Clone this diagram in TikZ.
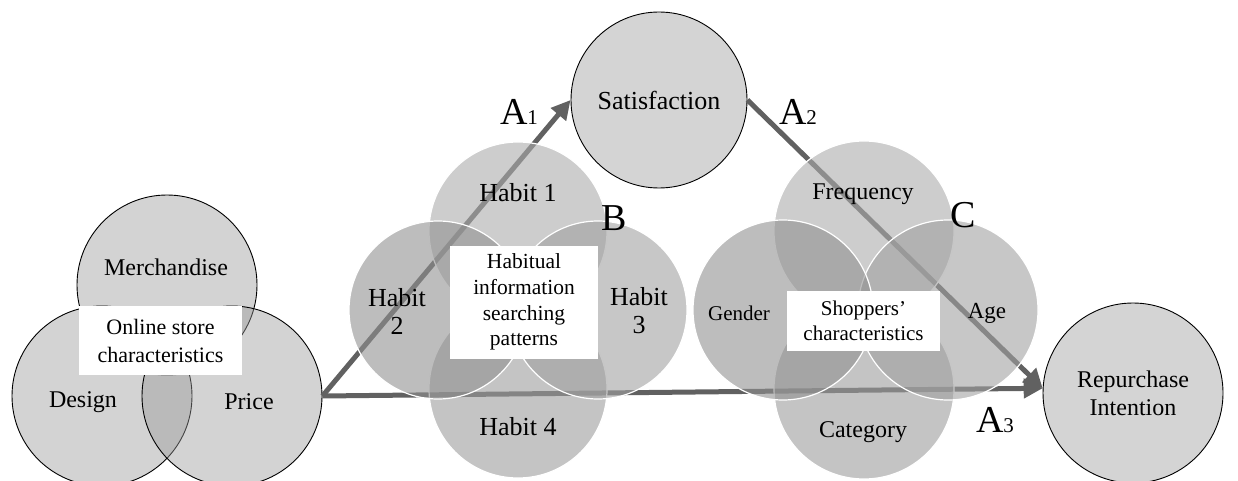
\documentclass[tikz,border=0pt]{standalone}
\usepackage{fontspec}
\setmainfont{Liberation Serif}
\usetikzlibrary{arrows.meta,positioning}

\definecolor{circfill}{gray}{0.83}
\definecolor{arrgray}{gray}{0.38}
\definecolor{topc}{gray}{0.67}
\definecolor{leftc}{gray}{0.57}
\definecolor{rightc}{gray}{0.63}
\definecolor{botc}{gray}{0.61}
\newcommand{\sz}[2]{\fontsize{#1}{#2}\selectfont}
\newcommand{\pathlab}[2]{{\sz{38}{40}#1}{\sz{21}{22}#2}}

\begin{document}
\begin{tikzpicture}[x=1pt,y=-1pt,
    venn/.style={circle,draw=black,line width=0.9pt,fill=black!40,fill opacity=0.43,minimum size=180pt,inner sep=0pt},
    mainc/.style={circle,draw=black,line width=0.9pt,fill=circfill,minimum size=176pt,inner sep=0pt,align=center},
    habit/.style={circle,draw=white,line width=1.2pt,fill opacity=0.6,minimum size=178pt,inner sep=0pt},
    whitebox/.style={fill=white,inner sep=0pt,align=center},
    arr/.style={draw=arrgray,line width=5pt,-{Triangle[length=19pt,width=19pt]}},
    txt/.style={inner sep=0pt,align=center}]
    \useasboundingbox (0,0) rectangle (1238,481);
    \clip (0,0) rectangle (1238,481);
%   online store
    \node[venn] (merch) at (167,285) {};
    \node[venn] (design) at (102,396) {};
    \node[venn] (price) at (232,396) {};
%   outcomes
    \node[mainc,font=\sz{26}{28}] (sat) at (659,100) {Satisfaction};
    \node[mainc,minimum size=180pt,font=\sz{24}{28}] (rep) at (1133,393) {Repurchase\\Intention};
%   paths
    \draw[arr] (price.east) -- (sat.west);
    \draw[arr] (sat.east) -- (rep.177);
    \draw[arr] (price.east) -- (rep.177);
%   habits
    \node[habit,fill=topc] (habit1) at (518,231) {};
    \node[habit,fill=botc] (habit4) at (518,389) {};
    \node[habit,fill=rightc] (habit3) at (598,310) {};
    \node[habit,fill=leftc] (habit2) at (438,310) {};
%   shoppers
    \node[habit,fill=topc,minimum size=180pt] (freq) at (864,231) {};
    \node[habit,fill=botc,minimum size=180pt] (categ) at (864,389) {};
    \node[habit,fill=rightc,minimum size=180pt] (age) at (948,310) {};
    \node[habit,fill=leftc,minimum size=180pt] (gender) at (783,310) {};
%   boxes
    \node[whitebox,minimum width=163pt,minimum height=69pt,font=\sz{22}{28}] (storebox) at (160.5,340.5) {Online store\\characteristics};
    \node[whitebox,minimum width=148pt,minimum height=113pt,font=\sz{21.5}{25.7}] (habitbox) at (524,302) {Habitual\\information\\searching\\patterns};
    \node[whitebox,minimum width=153pt,minimum height=60pt,font=\sz{21}{25}] (shopbox) at (863.5,321) {Shoppers’\\characteristics};
%   texts
    \node[txt,font=\sz{24}{28}] (t-merch) at (166,267) {Merchandise};
    \node[txt,font=\sz{24}{28}] (t-design) at (83,402) {Design};
    \node[txt,font=\sz{24}{28}] (t-price) at (249,402) {Price};
    \node[txt,font=\sz{26}{28}] (t-habit1) at (518,193) {Habit 1};
    \node[txt,font=\sz{26}{28}] (t-habit2) at (397,311) {Habit\\2};
    \node[txt,font=\sz{26}{28}] (t-habit3) at (639,311) {Habit\\3};
    \node[txt,font=\sz{26}{28}] (t-habit4) at (518,427) {Habit 4};
    \node[txt,font=\sz{24}{28}] (t-freq) at (863,194) {Frequency};
    \node[txt,font=\sz{21}{28}] (t-gender) at (739,313) {Gender};
    \node[txt,font=\sz{23}{28}] (t-age) at (987,313) {Age};
    \node[txt,font=\sz{24}{28}] (t-categ) at (863,432) {Category};
%   labels
    \node[txt] (a1) at (519,111.5) {\pathlab{A}{1}};
    \node[txt] (a2) at (798,111.5) {\pathlab{A}{2}};
    \node[txt] (a3) at (995,420) {\pathlab{A}{3}};
    \node[txt,font=\sz{38}{40}] (b) at (614,218) {B};
    \node[txt,font=\sz{38}{40}] (c) at (963,215) {C};
\end{tikzpicture}
\end{document}
